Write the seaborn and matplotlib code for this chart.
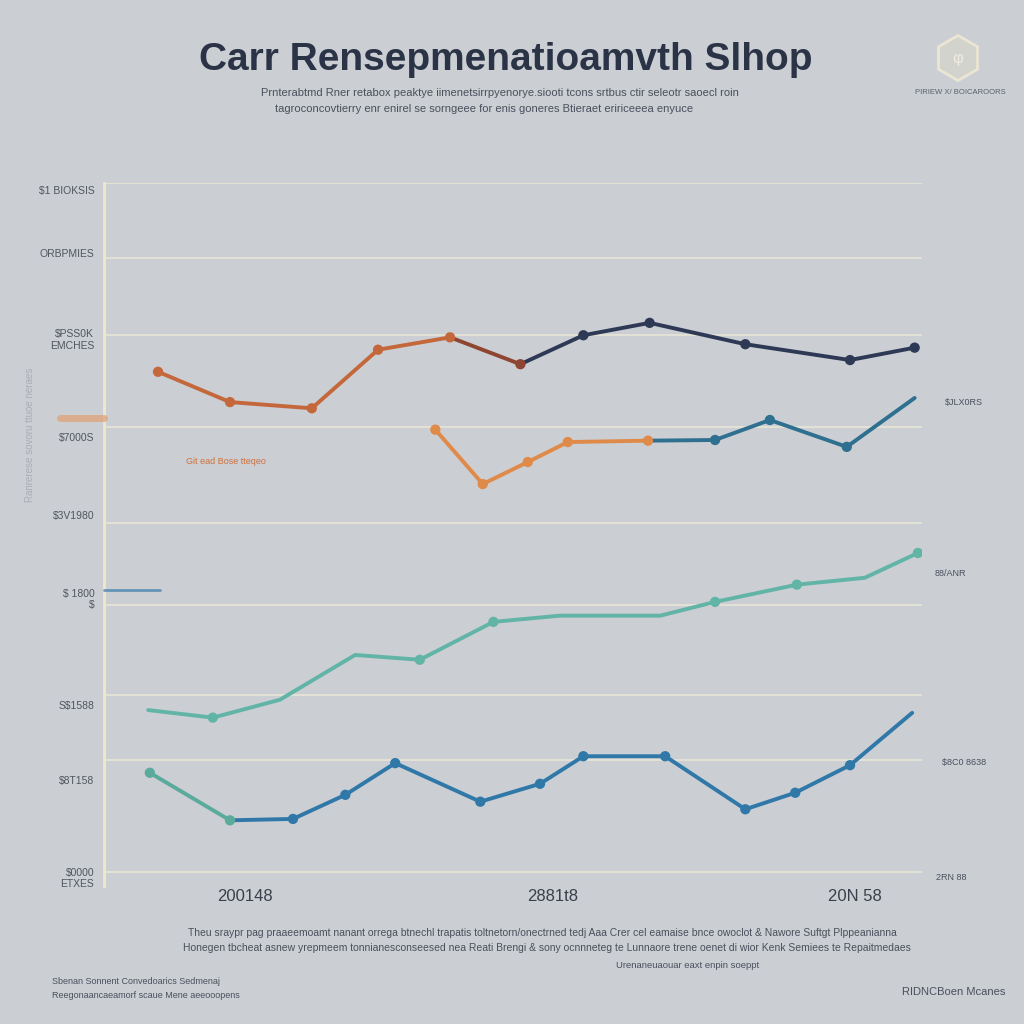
import matplotlib
matplotlib.use("Agg")
import matplotlib.pyplot as plt
import pandas as pd
import seaborn as sns
from matplotlib.patches import RegularPolygon
from matplotlib.lines import Line2D

# Datos (escala de tiempo 0-100, valores 0-100)
top_x = [6.6, 15.4, 25.4, 33.5, 42.3, 50.9, 58.6, 66.7, 78.4, 91.2, 99.1]
top_y = [72.6, 68.2, 67.3, 75.8, 77.6, 73.7, 77.9, 79.7, 76.6, 74.3, 76.1]
top_seg = ["top_a"] * 5 + ["top_c"] + ["top_b"] * 5

mid_x = [40.5, 46.3, 51.8, 56.7, 66.5, 74.7, 81.4, 90.8, 99.1]
mid_y = [64.2, 56.3, 59.5, 62.4, 62.6, 62.7, 65.6, 61.7, 68.8]
mid_seg = ["mid_a"] * 5 + ["mid_b"] * 4

teal_x = [5.4, 13.3, 21.5, 30.7, 38.6, 47.6, 55.7, 68.0, 74.7, 84.7, 93.0, 99.5]
teal_y = [23.5, 22.4, 25.0, 31.5, 30.8, 36.3, 37.2, 37.2, 39.2, 41.7, 42.7, 46.3]
teal_mark = [0, 1, 0, 0, 1, 1, 0, 0, 1, 1, 0, 1]

low_x = [5.6, 15.4, 23.1, 29.5, 35.6, 46.0, 53.3, 58.6, 68.6, 78.4, 84.5, 91.2, 98.8]
low_y = [14.4, 7.5, 7.7, 11.2, 15.8, 10.2, 12.8, 16.8, 16.8, 9.1, 11.5, 15.5, 23.1]
low_seg = ["low_a"] * 2 + ["low_b"] * 11

grid_levels = [100, 89.1, 77.9, 64.6, 50.7, 38.8, 25.7, 16.3, 0]
ytick_pos = [99.0, 89.8, 77.5, 63.1, 51.8, 39.8, 24.2, 13.4, -0.7]
ytick_labels = ["$1 BIOKSIS", "ORBPMIES", "$PSS0K\nEMCHES", "$7000S", "$3V1980",
                "$ 1800\n$", "S$1588", "$8T158", "$0000\nETXES"]
xtick_pos = [17.2, 54.9, 91.8]
xtick_labels = ["200148", "2881t8", "20N 58"]

palette = {
    "top_a": "#c4683c", "top_c": "#8e4632", "top_b": "#2e3a55",
    "mid_a": "#e08a4a", "mid_b": "#2f6f8f",
    "teal": "#62b5a6",
    "low_a": "#5aab9c", "low_b": "#2f78a8",
}


def segmentos(xs, ys, segs):
    # repite el punto de union para que los tramos queden conectados
    filas = []
    for i, (x, y, s) in enumerate(zip(xs, ys, segs)):
        filas.append((x, y, s))
        if i + 1 < len(segs) and segs[i + 1] != s:
            filas.append((x, y, segs[i + 1]))
    return filas


rows = (segmentos(top_x, top_y, top_seg) + segmentos(mid_x, mid_y, mid_seg)
        + segmentos(teal_x, teal_y, ["teal"] * len(teal_x))
        + segmentos(low_x, low_y, low_seg))
lines = pd.DataFrame(rows, columns=["x", "y", "serie"])

marks = pd.concat([
    pd.DataFrame({"x": top_x, "y": top_y, "serie": top_seg}),
    pd.DataFrame({"x": mid_x[:-1], "y": mid_y[:-1], "serie": mid_seg[:-1]}),
    pd.DataFrame({"x": [x for x, m in zip(teal_x, teal_mark) if m],
                  "y": [y for y, m in zip(teal_y, teal_mark) if m], "serie": "teal"}),
    pd.DataFrame({"x": low_x[:-1], "y": low_y[:-1], "serie": low_seg[:-1]}),
])

sns.set_theme(style="white")
plt.rcParams["font.family"] = ["Liberation Sans", "DejaVu Sans"]

bg = "#cbced3"
txt = "#4a4f5c"
fig = plt.figure(figsize=(10.24, 10.24), dpi=100, facecolor=bg)
ax = fig.add_axes([0.1016, 0.1350, 0.7988, 0.6863], facecolor=bg)

for g in grid_levels:
    ax.axhline(g, color="#ebe7d6", lw=1.1, zorder=1)

sns.lineplot(data=lines, x="x", y="y", hue="serie", palette=palette,
             lw=2.8, sort=False, estimator=None, legend=False, ax=ax, zorder=3)
sns.scatterplot(data=marks, x="x", y="y", hue="serie", palette=palette,
                s=55, linewidth=0, legend=False, ax=ax, zorder=4)

ax.set_xlim(0, 100)
ax.set_ylim(-2, 100)
ax.set_xticks(xtick_pos, xtick_labels)
ax.set_yticks(ytick_pos, ytick_labels)
ax.tick_params(axis="x", length=0, pad=2, labelsize=12, labelcolor="#3a3f4c")
ax.tick_params(axis="y", length=0, pad=7, labelsize=7.5, labelcolor="#50555f")
ax.set_xlabel("")
ax.set_ylabel("")
for side in ["top", "right", "bottom"]:
    ax.spines[side].set_visible(False)
ax.spines["left"].set_color("#efe8cc")
ax.spines["left"].set_linewidth(2)

# Titulo y subtitulo
fig.text(0.494, 1 - 60 / 1024, "Carr Rensepmenatioamvth Slhop", ha="center", va="center",
         fontsize=28, fontweight="bold", color="#2b3346")
fig.text(0.488, 0.909, "Prnterabtmd Rner retabox peaktye iimenetsirrpyenorye.siooti tcons "
         "srtbus ctir seleotr saoecl roin", ha="center", va="center", fontsize=8, color=txt)
fig.text(0.473, 0.894, "tagroconcovtierry enr enirel se sorngeee for enis goneres "
         "Btieraet eririceeea enyuce", ha="center", va="center", fontsize=8, color=txt)

# Logo
fig.add_artist(RegularPolygon((958 / 1024, 1 - 58 / 1024), 6, radius=0.022,
                              transform=fig.transFigure, facecolor="#d3d3cd",
                              edgecolor="#ebe6d4", lw=2))
fig.text(958 / 1024, 1 - 58 / 1024, "\u03c6", ha="center", va="center", fontsize=12,
         color="#efece0")
fig.text(960 / 1024, 1 - 93 / 1024, "PIRIEW X/ BOICAROORS", ha="center", va="center",
         fontsize=5.5, color="#5a5f6b")

# Anotaciones
fig.text(226 / 1024, 1 - 462 / 1024, "Git ead Bose tteqeo", ha="center", va="center",
         fontsize=6.5, color="#d0703a")
fig.text(945 / 1024, 1 - 403 / 1024, "$JLX0RS", ha="left", va="center",
         fontsize=6.5, color=txt)
fig.text(935 / 1024, 1 - 574 / 1024, "88/ANR", ha="left", va="center",
         fontsize=6.5, color=txt)
fig.text(942 / 1024, 1 - 762 / 1024, "$8C0 8638", ha="left", va="center",
         fontsize=6.5, color=txt)
fig.text(936 / 1024, 1 - 878 / 1024, "2RN 88", ha="left", va="center",
         fontsize=6.5, color=txt)
fig.add_artist(Line2D([60 / 1024, 104 / 1024], [1 - 418 / 1024] * 2,
                      transform=fig.transFigure, color="#e0a070", lw=5, alpha=0.7))
fig.add_artist(Line2D([104 / 1024, 160 / 1024], [1 - 590 / 1024] * 2,
                      transform=fig.transFigure, color="#4a86b0", lw=2, alpha=0.8))
fig.text(30 / 1024, 1 - 435 / 1024, "Ranrerese sovoru ttuoe neraes", rotation=90,
         ha="center", va="center", fontsize=7, color="#a9adb5")

# Pie
fig.text(542 / 1024, 1 - 933 / 1024, "Theu sraypr pag praaeemoamt nanant orrega btnechl trapatis "
         "toltnetorn/onectrned tedj Aaa Crer cel eamaise bnce owoclot & Nawore Suftgt Plppeanianna",
         ha="center", va="center", fontsize=7.5, color=txt)
fig.text(547 / 1024, 1 - 948 / 1024, "Honegen tbcheat asnew yrepmeem tonnianesconseesed nea Reati "
         "Brengi & sony ocnnneteg te Lunnaore trene oenet di wior Kenk Semiees te Repaitmedaes",
         ha="center", va="center", fontsize=7.5, color=txt)
fig.text(688 / 1024, 1 - 966 / 1024, "Urenaneuaouar eaxt enpin soeppt", ha="center", va="center",
         fontsize=6.8, color=txt)
fig.text(52 / 1024, 1 - 982 / 1024, "Sbenan Sonnent Convedoarics Sedmenaj", ha="left",
         va="center", fontsize=6.5, color=txt)
fig.text(52 / 1024, 1 - 995 / 1024, "Reegonaancaeamorf scaue Mene aeeooopens", ha="left",
         va="center", fontsize=6.5, color=txt)
fig.text(1005 / 1024, 1 - 992 / 1024, "RIDNCBoen Mcanes", ha="right", va="center",
         fontsize=8, color=txt)

fig.savefig("out.png", dpi=100, facecolor=bg)
